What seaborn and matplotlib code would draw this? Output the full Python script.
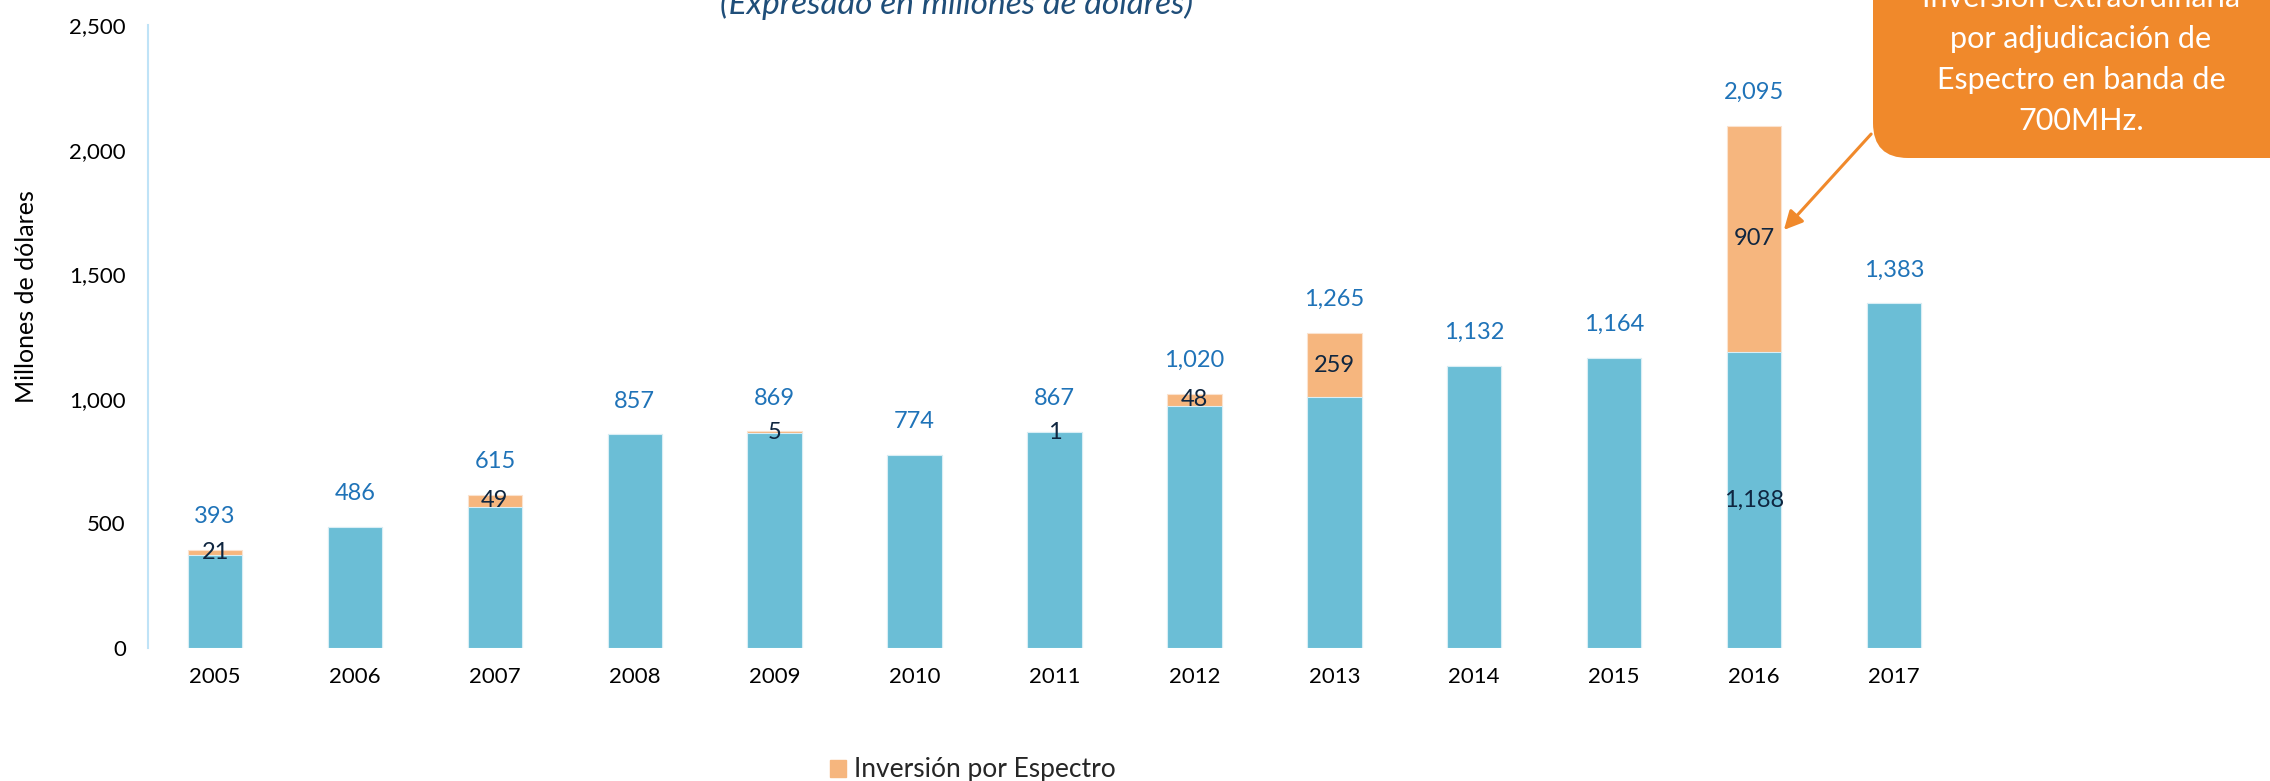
import numpy as np
import pandas as pd
import matplotlib
matplotlib.use('Agg')
import matplotlib.pyplot as plt
import seaborn as sns
from matplotlib.patches import FancyBboxPatch, FancyArrowPatch, Patch
from matplotlib.transforms import IdentityTransform
import matplotlib.ticker as ticker

# datos (millones de dólares)
years = ['2005', '2006', '2007', '2008', '2009', '2010', '2011', '2012', '2013', '2014', '2015', '2016', '2017']
total = [393, 486, 615, 857, 869, 774, 867, 1020, 1265, 1132, 1164, 2095, 1383]
espectro = [21, 0, 49, 0, 5, 0, 1, 48, 259, 0, 0, 907, 0]
base = [t - e for t, e in zip(total, espectro)]

sns.set_style('white')
plt.rcParams['font.family'] = ['Lato', 'DejaVu Sans']

c_base = '#6BBED6'
c_esp = '#F6B67E'
c_lbl = '#1F73B8'
c_dark = '#0F2640'
c_box = '#F0892B'

df = pd.DataFrame({'anio': years, 'total': total, 'base': base, 'espectro': espectro})

fig = plt.figure(figsize=(22.7, 7.81), dpi=100)
ax = fig.add_axes([148 / 2270, 133 / 781, (1961 - 148) / 2270, 623 / 781])

# total en naranja, luego la base azul encima (barras apiladas)
sns.barplot(data=df, x='anio', y='total', color=c_esp, width=0.39, ax=ax,
            saturation=1, edgecolor='#FBE3CF', linewidth=0.8)
sns.barplot(data=df, x='anio', y='base', color=c_base, width=0.39, ax=ax,
            saturation=1, edgecolor='#D8EEF6', linewidth=0.8)

ax.set_xlim(-0.48, 12.48)
ax.set_ylim(0, 2500)
ax.yaxis.set_major_locator(ticker.MultipleLocator(500))
ax.yaxis.set_major_formatter(ticker.StrMethodFormatter('{x:,.0f}'))
ax.tick_params(axis='both', length=0, labelsize=16, colors='black')
ax.tick_params(axis='x', pad=14)
ax.tick_params(axis='y', pad=16)
ax.set_xlabel('')
ax.set_ylabel('')
for s in ['top', 'right', 'bottom']:
    ax.spines[s].set_visible(False)
ax.spines['left'].set_color('#BFE3F7')
ax.spines['left'].set_linewidth(1.5)

# etiquetas
for i, (t, b, e) in enumerate(zip(total, base, espectro)):
    ax.annotate(f'{t:,}', (i, t), xytext=(0, 24), textcoords='offset points',
                ha='center', va='center', fontsize=17, color=c_lbl)
    if e > 0:
        ax.text(i, b + e / 2, f'{e:,}', ha='center', va='center', fontsize=17, color=c_dark)
ax.text(11, base[11] / 2, f'{base[11]:,}', ha='center', va='center', fontsize=17, color=c_dark)

fig.text(27 / 2270, 1 - 297 / 781, 'Millones de dólares', rotation=90, ha='center', va='center',
         fontsize=18, color='black')
fig.text(957 / 2270, 1 - 14 / 781, '(Expresado en millones de dólares)', ha='center', va='baseline',
         fontsize=24, style='italic', color='#1F4E79')

fig.legend(handles=[Patch(color=c_esp, label='Inversión por Espectro')],
           loc='center', bbox_to_anchor=(973 / 2270, 1 - 770 / 781), frameon=False,
           fontsize=19, handlelength=0.6, handleheight=0.6, handletextpad=0.3, borderpad=0)

# recuadro de nota
box = FancyBboxPatch((1873, 781 - 158), 460, 300, boxstyle='round,pad=0,rounding_size=35',
                     transform=IdentityTransform(), facecolor=c_box, edgecolor='none')
fig.patches.append(box)
notas = ['Inversión extraordinaria', 'por adjudicación de', 'Espectro en banda de', '700MHz.']
for k, linea in enumerate(notas):
    fig.text(2081 / 2270, 1 - (7 + 41 * k) / 781, linea, ha='center', va='baseline',
             fontsize=22, color='white')

flecha = FancyArrowPatch((1873, 781 - 132), (1782, 781 - 232), transform=IdentityTransform(),
                         arrowstyle='-|>', mutation_scale=28, color=c_box, lw=2.2)
fig.patches.append(flecha)

fig.savefig('out.png', dpi=100)
